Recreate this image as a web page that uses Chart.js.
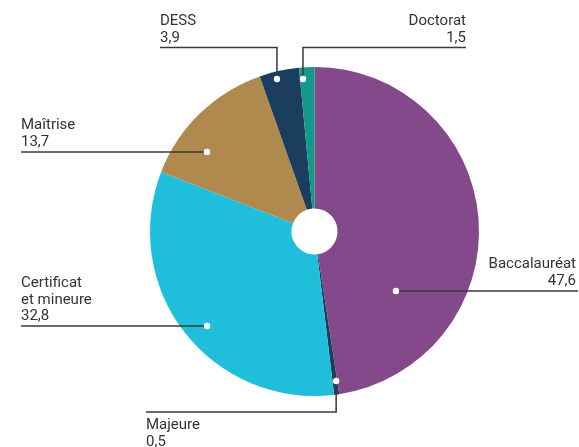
<!DOCTYPE html>
<html>
<head>
<meta charset="utf-8">
<script src="https://cdn.jsdelivr.net/npm/chart.js@4"></script>
<style>
html,body{margin:0;padding:0;background:#fff;}
#wrap{width:579px;height:447px;position:relative;}
</style>
</head>
<body>
<div id="wrap"><canvas id="c" width="579" height="447"></canvas></div>
<script>
const categories = ["Baccalauréat", "Majeure", "Certificat\net mineure", "Maîtrise", "DESS", "Doctorat"];
const values = [47.6, 0.5, 32.8, 13.7, 3.9, 1.5];
const valueLabels = ["47,6", "0,5", "32,8", "13,7", "3,9", "1,5"];
const colors = ["#84498B", "#1B3D5E", "#1FBFDC", "#B0894F", "#1B3D5E", "#13998B"];

// label layout: dot position within slice (t = fraction of slice angle, rf = fraction of radius),
// text anchor, alignment, elbow
const labelLayout = [
  {t: 0.736, rf: 0.613, lineY: null, lineTo: 578, textX: 576, align: "right", textAbove: true},
  {t: 0.22, rf: 0.918, lineY: 412, lineTo: 146, textX: 146, align: "left", textAbove: false},
  {t: 0.47, rf: 0.87, lineY: null, lineTo: 21, textX: 21, align: "left", textAbove: true},
  {t: 0.31, rf: 0.813, lineY: null, lineTo: 21, textX: 21, align: "left", textAbove: true},
  {t: 0.40, rf: 0.955, lineY: 47.5, lineTo: 160, textX: 160, align: "left", textAbove: true},
  {t: 0.20, rf: 0.93, lineY: 47.5, lineTo: 466, textX: 466, align: "right", textAbove: true}
];

const leaderPlugin = {
  id: "leaders",
  afterDatasetsDraw(chart) {
    const ctx = chart.ctx;
    const meta = chart.getDatasetMeta(0);
    const lh = 16.5;
    ctx.save();
    meta.data.forEach((arc, i) => {
      const L = labelLayout[i];
      const a = arc.startAngle + (arc.endAngle - arc.startAngle) * L.t;
      const r = arc.outerRadius * L.rf;
      const dx = arc.x + Math.cos(a) * r;
      const dy = arc.y + Math.sin(a) * r;
      const ly = L.lineY === null ? dy : L.lineY;
      ctx.strokeStyle = "#3a3a3a";
      ctx.lineWidth = 1.5;
      ctx.beginPath();
      ctx.moveTo(dx, dy);
      ctx.lineTo(dx, ly);
      ctx.lineTo(L.lineTo, ly);
      ctx.stroke();
      ctx.fillStyle = "#ffffff";
      ctx.beginPath();
      ctx.arc(dx, dy, 3.2, 0, Math.PI * 2);
      ctx.fill();
      const lines = categories[i].split("\n").concat([valueLabels[i]]);
      ctx.fillStyle = "#333333";
      ctx.font = "15px Roboto";
      ctx.textAlign = L.align;
      ctx.textBaseline = "alphabetic";
      lines.forEach((s, k) => {
        let y;
        if (L.textAbove) y = ly - 6 - (lines.length - 1 - k) * lh;
        else y = ly + 17 + k * lh;
        ctx.fillText(s, L.textX, y);
      });
    });
    ctx.restore();
  }
};

new Chart(document.getElementById("c"), {
  type: "doughnut",
  data: {
    labels: categories,
    datasets: [{
      data: values,
      backgroundColor: colors,
      borderWidth: 0,
      hoverOffset: 0
    }]
  },
  options: {
    responsive: false,
    animation: false,
    cutout: "14%",
    layout: {padding: {top: 67, bottom: 51, left: 150, right: 100}},
    plugins: {legend: {display: false}, tooltip: {enabled: false}}
  },
  plugins: [leaderPlugin]
});
</script>
</body>
</html>
